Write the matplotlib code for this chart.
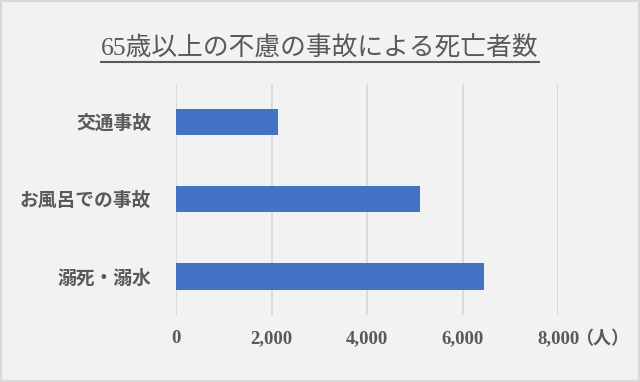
import matplotlib.pyplot as plt
from matplotlib.lines import Line2D
from matplotlib.patches import Rectangle

categories = ['交通事故', 'お風呂での事故', '溺死・溺水']
deaths = [2130, 5110, 6460]
xticks = [0, 2000, 4000, 6000, 8000]

fonts = ['Liberation Serif', 'Noto Sans CJK JP']
gray = '#595959'
bg = '#f2f2f2'

fig = plt.figure(figsize=(6.4, 3.82), dpi=100, facecolor=bg)
ax = fig.add_axes([0.275, 0.1754, 0.5969, 0.606])
ax.set_facecolor(bg)

ypos = list(range(len(categories)))
ax.barh(ypos, deaths, height=0.34, color='#4472C4', zorder=3)
ax.set_ylim(len(categories) - 0.5, -0.5)
ax.set_xlim(0, 8000)

ax.set_yticks(ypos)
ax.set_yticklabels(categories, family=fonts, fontsize=13.5, fontweight='bold', color=gray)
ax.set_xticks(xticks)
ax.set_xticklabels([f'{v:,}' for v in xticks], family=fonts, fontsize=13.5,
                   fontweight='bold', color=gray)
ax.tick_params(axis='y', length=0, pad=18)
ax.tick_params(axis='x', length=0, pad=11)
ax.grid(axis='x', color='#d9d9d9', linewidth=1.3, zorder=0)
for s in ax.spines.values():
    s.set_visible(False)

# unit label next to the last tick
ax.annotate('（人）', xy=(1, 0), xycoords='axes fraction', xytext=(17, -25),
            textcoords='offset pixels', ha='left', va='center',
            family=fonts, fontsize=13, fontweight='bold', color=gray)

title = fig.text(0.5, 1 - 47 / 382, '65歳以上の不慮の事故による死亡者数', ha='center', va='center',
                 family=fonts, fontsize=18.5, color=gray)

# underline the title
fig.canvas.draw()
bb = title.get_window_extent()
W, H = fig.bbox.width, fig.bbox.height
uy = 1 - 62 / 382
fig.add_artist(Line2D([bb.x0 / W, bb.x1 / W], [uy, uy], color=gray, linewidth=1.5))

fig.add_artist(Rectangle((0, 0), 1, 1, transform=fig.transFigure, fill=False,
                         edgecolor='#d9d9d9', linewidth=3))

fig.savefig('out.png', dpi=100, facecolor=bg)
